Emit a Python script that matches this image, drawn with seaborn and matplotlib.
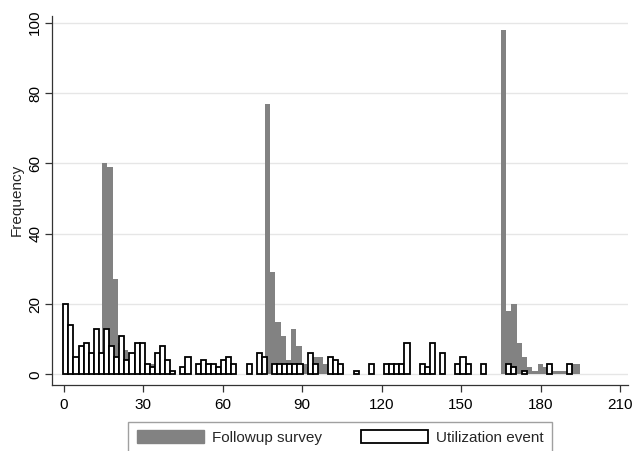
import numpy as np
import pandas as pd
import matplotlib
matplotlib.use("Agg")
import matplotlib.pyplot as plt
from matplotlib.patches import Patch
import seaborn as sns

# bin layout (x units)
SURVEY_START, SURVEY_WIDTH = 14.55, 1.98
UTIL_START, UTIL_WIDTH = -0.15, 1.922

# counts per bin, left to right
survey_counts = [
    60, 59, 27, 9, 7, 4, 3, 3, 3, 3, 2, 2, 1, 1,
    0, 0, 0, 0, 0, 0, 0, 0, 0, 0, 0, 0, 0, 0, 0, 0, 0,
    77, 29, 15, 11, 4, 13, 8, 3, 2, 5, 5, 3, 4, 4, 2,
    0, 0, 0, 0, 0, 0, 0, 0, 0, 0, 0, 0, 0, 0, 0,
    0, 0, 0, 0, 0, 0, 0, 0, 0, 0, 0, 0, 0, 0, 0,
    98, 18, 20, 9, 5, 2, 1, 3, 2, 2, 1, 1, 1, 3, 3,
]
util_counts = [
    20, 14, 5, 8, 9, 6, 13, 6, 13, 8, 5, 11, 4, 6, 9, 9, 3, 2, 6, 8,
    4, 1, 0, 2, 5, 0, 3, 4, 3, 3, 2, 4, 5, 3, 0, 0, 3, 0, 6, 5,
    0, 3, 3, 3, 3, 3, 3, 0, 6, 3, 0, 0, 5, 4, 3, 0, 0, 1, 0, 0,
    3, 0, 0, 3, 3, 3, 3, 9, 0, 0, 3, 2, 9, 0, 6, 0, 0, 3, 5, 3,
    0, 0, 3, 0, 0, 0, 0, 3, 2, 0, 1, 0, 0, 0, 0, 3, 0, 0, 0, 3,
]
x_ticks = [0, 30, 60, 90, 120, 150, 180, 210]
y_ticks = [0, 20, 40, 60, 80, 100]
series_labels = ["Followup survey", "Utilization event"]

SURVEY_COLOR = "#828282"
AXIS_COLOR = "#333333"
FONT_SIZE = 11


def bin_frame(start, width, counts):
    """Bin centres and counts, plus the bin range for histplot"""
    n = len(counts)
    centers = start + width * (np.arange(n) + 0.5)
    df = pd.DataFrame({"center": centers, "count": counts})
    return df, (start, start + n * width)


sns.set_style("white")
plt.rcParams["font.family"] = ["Liberation Sans", "DejaVu Sans"]

fig = plt.figure(figsize=(6.35, 4.51), dpi=100)
ax = fig.add_axes([0.0819, 0.1463, 0.907, 0.819])

# horizontal grid like Stata
for y in y_ticks:
    ax.axhline(y, color="#e6e6e6", linewidth=1.0, zorder=0)

survey_df, survey_range = bin_frame(SURVEY_START, SURVEY_WIDTH, survey_counts)
util_df, util_range = bin_frame(UTIL_START, UTIL_WIDTH, util_counts)

sns.histplot(data=survey_df, x="center", weights="count",
             binwidth=SURVEY_WIDTH, binrange=survey_range,
             color=SURVEY_COLOR, alpha=1, linewidth=0, ax=ax, zorder=2)
n_survey = len(ax.patches)
sns.histplot(data=util_df, x="center", weights="count",
             binwidth=UTIL_WIDTH, binrange=util_range,
             facecolor="white", edgecolor="black", alpha=1, linewidth=1.3,
             ax=ax, zorder=3)

# empty bins would leave a flat black stroke on the baseline
for p in ax.patches[n_survey:]:
    if p.get_height() == 0:
        p.set_linewidth(0)

ax.set_xlim(-4.4, 213)
ax.set_ylim(-3, 102)
ax.set_xticks(x_ticks)
ax.set_yticks(y_ticks)
ax.set_xticklabels([str(v) for v in x_ticks], fontsize=FONT_SIZE)
ax.set_yticklabels([str(v) for v in y_ticks], fontsize=FONT_SIZE,
                   rotation=90, va="center")
ax.set_xlabel("")
ax.set_ylabel("Frequency", fontsize=FONT_SIZE, labelpad=3)
ax.tick_params(axis="both", direction="out", length=5, width=0.9,
               color=AXIS_COLOR, pad=4, labelcolor="black")
ax.tick_params(axis="y", pad=2)
ax.tick_params(left=True, bottom=True)

for side in ["top", "right"]:
    ax.spines[side].set_visible(False)
for side in ["left", "bottom"]:
    ax.spines[side].set_color(AXIS_COLOR)
    ax.spines[side].set_linewidth(0.9)

handles = [Patch(facecolor=SURVEY_COLOR, edgecolor=SURVEY_COLOR),
           Patch(facecolor="white", edgecolor="black", linewidth=1.3)]
fig.legend(handles, series_labels, loc="upper center",
           bbox_to_anchor=(0.536, 0.0643), ncol=2, fontsize=FONT_SIZE,
           frameon=True, fancybox=False, edgecolor="#888888",
           handlelength=4.4, handleheight=0.9, columnspacing=2.5,
           handletextpad=0.55, borderpad=0.55, borderaxespad=0)

fig.savefig("out.png", dpi=100)
